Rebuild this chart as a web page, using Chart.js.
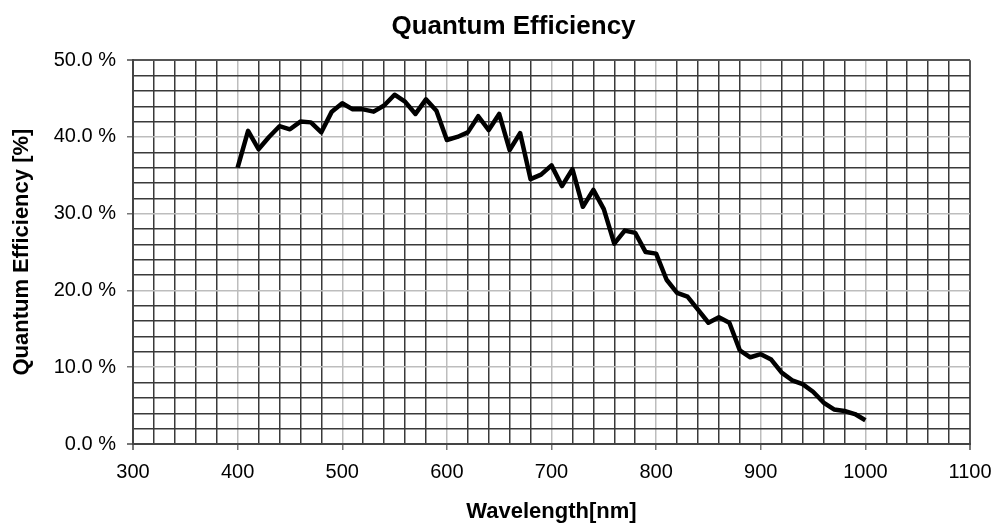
<!DOCTYPE html>
<html>
<head>
<meta charset="utf-8">
<title>Quantum Efficiency</title>
<script src="https://cdn.jsdelivr.net/npm/chart.js@4.4.1/dist/chart.umd.min.js"></script>
<style>
  html, body { margin: 0; padding: 0; background: #fff; }
  #wrap { width: 997px; height: 526px; }
</style>
</head>
<body>
<div id="wrap"><canvas id="chart" width="997" height="526"></canvas></div>
<script>
/* ===== Quantum Efficiency curve ===== */

// wavelength [nm]
const wavelengths = [
  400, 410, 420, 430, 440, 450, 460, 470, 480, 490,
  500, 510, 520, 530, 540, 550, 560, 570, 580, 590,
  600, 610, 620, 630, 640, 650, 660, 670, 680, 690,
  700, 710, 720, 730, 740, 750, 760, 770, 780, 790,
  800, 810, 820, 830, 840, 850, 860, 870, 880, 890,
  900, 910, 920, 930, 940, 950, 960, 970, 980, 990,
  1000
];

// quantum efficiency [%]
const qe = [
  36.0, 40.8, 38.4, 40.0, 41.4, 41.0, 42.0, 41.9, 40.6, 43.3,
  44.4, 43.6, 43.6, 43.3, 44.1, 45.5, 44.6, 43.0, 44.9, 43.4,
  39.6, 40.0, 40.6, 42.7, 40.9, 43.0, 38.3, 40.5, 34.5, 35.1,
  36.3, 33.6, 35.8, 30.9, 33.1, 30.6, 26.1, 27.8, 27.5, 25.0,
  24.8, 21.4, 19.7, 19.2, 17.5, 15.8, 16.5, 15.8, 12.2, 11.3,
  11.7, 11.0, 9.3, 8.3, 7.8, 6.8, 5.4, 4.5, 4.3, 3.9,
  3.1
];

// labelled ticks
const xTickLabels = [300, 400, 500, 600, 700, 800, 900, 1000, 1100];
const yTickValues = [0, 10, 20, 30, 40, 50];
const yTickLabels = ["0.0 %", "10.0 %", "20.0 %", "30.0 %", "40.0 %", "50.0 %"];

const FONT = '"Liberation Sans", Arial, Helvetica, sans-serif';
Chart.defaults.font.family = FONT;
Chart.defaults.color = "#000";

// 눈금선: 라벨 위치는 연한 회색, 나머지는 진한 회색
const gridColor = (isMajor, isEdge) => ctx => {
  const v = ctx.tick.value;
  if (isEdge(v)) return "#555";
  return isMajor(v) ? "#bdbdbd" : "#3a3a3a";
};
const xMajor = v => xTickLabels.includes(v);
const xEdge = v => v === 300 || v === 1100;
const yMajor = v => yTickValues.includes(v);
const yEdge = v => v === 0 || v === 50;

const points = wavelengths.map((w, i) => ({ x: w, y: qe[i] }));

new Chart(document.getElementById("chart"), {
  type: "line",
  data: {
    datasets: [{
      label: "Quantum Efficiency",
      data: points,
      borderColor: "#000",
      borderWidth: 4.5,
      pointRadius: 0,
      tension: 0,
      fill: false,
      borderJoinStyle: "round"
    }]
  },
  options: {
    responsive: false,
    animation: false,
    layout: { padding: { left: 30, right: 0, top: 0, bottom: 0 } },
    plugins: {
      legend: { display: false },
      tooltip: { enabled: false },
      title: {
        display: true,
        text: "Quantum Efficiency",
        color: "#000",
        font: { size: 26, weight: "bold", family: FONT },
        padding: { top: 11, bottom: 18 }
      }
    },
    scales: {
      x: {
        type: "linear",
        min: 300, max: 1100,
        afterFit: s => { s.height = 82; s.paddingRight = 27; },
        ticks: {
          stepSize: 20, autoSkip: false, maxRotation: 0, minRotation: 0,
          padding: 10, color: "#000", font: { size: 20 },
          callback: v => xTickLabels.includes(v) ? String(v) : ""
        },
        grid: {
          color: gridColor(xMajor, xEdge),
          lineWidth: ctx => xEdge(ctx.tick.value) ? 2 : 1.5,
          tickLength: 6,
          tickColor: ctx => xMajor(ctx.tick.value) ? "#777" : "transparent"
        },
        border: { color: "#444", width: 2 },
        title: {
          display: true, text: "Wavelength[nm]", color: "#000",
          font: { size: 22, weight: "bold" },
          padding: { top: 0, bottom: 1 }
        }
      },
      y: {
        min: 0, max: 50,
        afterFit: s => { s.width = 103; },
        ticks: {
          stepSize: 2, autoSkip: false, padding: 11, color: "#000", font: { size: 20 },
          callback: v => {
            const i = yTickValues.indexOf(v);
            return i >= 0 ? yTickLabels[i] : "";
          }
        },
        grid: {
          color: gridColor(yMajor, yEdge),
          lineWidth: ctx => yEdge(ctx.tick.value) ? 2 : 1.5,
          tickLength: 6,
          tickColor: ctx => yMajor(ctx.tick.value) ? "#777" : "transparent"
        },
        border: { color: "#444", width: 2 },
        title: {
          display: true, text: "Quantum Efficiency [%]", color: "#000",
          font: { size: 22, weight: "bold" },
          padding: { top: -21, bottom: 0 }
        }
      }
    }
  }
});
</script>
</body>
</html>
